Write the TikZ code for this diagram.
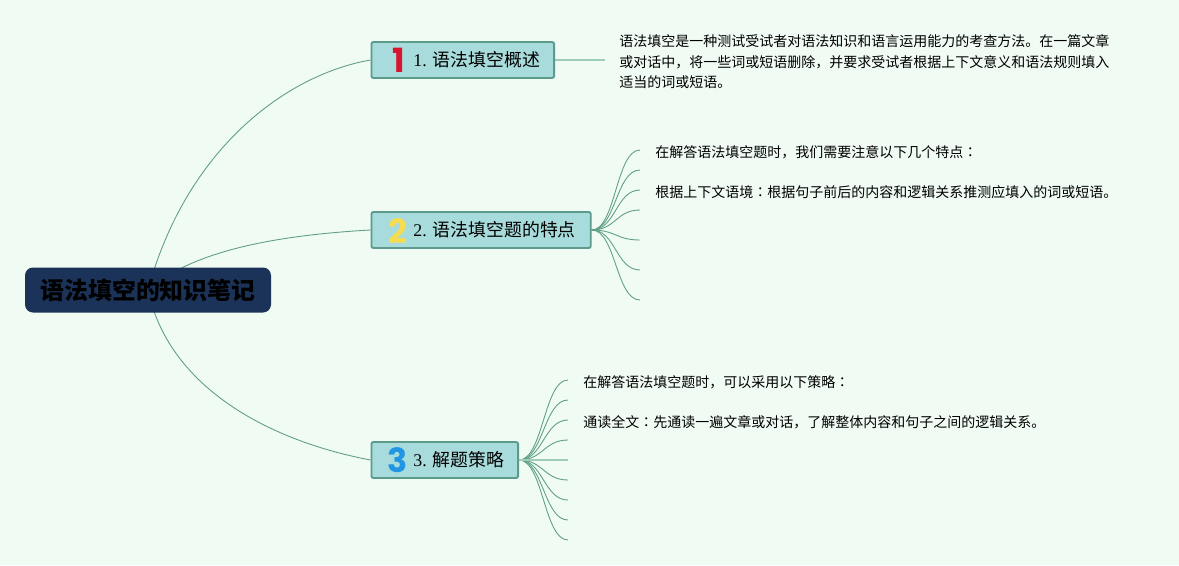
\documentclass[tikz,border=0pt]{standalone}
\usepackage{fontspec}
\setmainfont{Liberation Serif}
\newfontfamily\cjk{Noto Sans CJK SC}
\newfontfamily\cjktc{Noto Sans CJK TC}
\newfontfamily\numfont{Poppins}
\newcommand{\cc}{{\cjktc ：}}
\newcommand{\tlabel}[2]{\hspace*{31.5pt}\raisebox{-1.5pt}{#1\hspace{4.5pt}{\cjk #2}}}
\usetikzlibrary{backgrounds}
\definecolor{bgc}{HTML}{EFFBF3}
\definecolor{boxfill}{HTML}{A8DCDC}
\definecolor{boxline}{HTML}{5C9A8C}
\definecolor{rootfill}{HTML}{1B3358}
\definecolor{linec}{HTML}{5F9E85}
\definecolor{linelight}{HTML}{A0CDB6}
\definecolor{numred}{HTML}{D9142F}
\definecolor{numyellow}{HTML}{F5DC50}
\definecolor{numblue}{HTML}{2196E3}
\tikzset{
  rootbox/.style={draw=none,fill=rootfill,rounded corners=6pt,minimum width=184.5pt,minimum height=33.75pt,inner sep=0pt,font=\cjk\bfseries\fontsize{17.9}{22}\selectfont,text=black},
  topic/.style={draw=boxline,line width=1.4pt,fill=boxfill,rounded corners=1.5pt,minimum height=27pt,inner xsep=0pt,inner ysep=0pt,align=left,anchor=west,font=\fontsize{13.4}{16}\selectfont},
  numeral/.style={inner sep=0pt,font=\numfont\bfseries\fontsize{25}{25}\selectfont},
  leaf/.style={inner sep=0pt,anchor=west,align=left,font=\cjk\fontsize{10.5}{15.4}\selectfont,text=black},
  conn/.style={draw=linec,line width=.65pt},
  connlight/.style={draw=linelight,line width=1pt}
}
\begin{document}
\begin{tikzpicture}[x=.75pt,y=-.75pt]
\useasboundingbox (0,0) rectangle (1179,565);
\node[rootbox] (root) at (148,290) {\raisebox{-2.25pt}{语法填空的知识笔记}};
\node[topic,text width=137pt] (b1) at (370.5,60) {\tlabel{1.}{语法填空概述}};
\node[topic,text width=164.5pt] (b2) at (370.5,230) {\tlabel{2.}{语法填空题的特点}};
\node[topic,text width=110pt] (b3) at (370.5,460) {\tlabel{3.}{解题策略}};
\node[numeral,text=numred] (n1) at (399,60) {1};
\node[numeral,text=numyellow] (n2) at (398,231) {2};
\node[numeral,text=numblue] (n3) at (398,460) {3};
\node[leaf] (t1) at (619,62) {语法填空是一种测试受试者对语法知识和语言运用能力的考查方法。在一篇文章\\或对话中，将一些词或短语删除，并要求受试者根据上下文意义和语法规则填入\\适当的词或短语。};
\node[leaf] (t2a) at (655,152) {在解答语法填空题时，我们需要注意以下几个特点\cc};
\node[leaf] (t2b) at (655,192) {根据上下文语境\cc 根据句子前后的内容和逻辑关系推测应填入的词或短语。};
\node[leaf] (t3a) at (583,382) {在解答语法填空题时，可以采用以下策略\cc};
\node[leaf] (t3b) at (583,422) {通读全文\cc 先通读一遍文章或对话，了解整体内容和句子之间的逻辑关系。};
\coordinate (e1) at (605,60);
\coordinate (a1) at (640,150);
\coordinate (a2) at (640,170);
\coordinate (a3) at (640,190);
\coordinate (a4) at (640,210);
\coordinate (a5) at (640,240);
\coordinate (a6) at (640,270);
\coordinate (a7) at (640,300);
\coordinate (c1) at (568,380);
\coordinate (c2) at (568,400);
\coordinate (c3) at (568,420);
\coordinate (c4) at (568,440);
\coordinate (c5) at (568,460);
\coordinate (c6) at (568,480);
\coordinate (c7) at (568,500);
\coordinate (c8) at (568,520);
\coordinate (c9) at (568,540);
\begin{pgfonlayer}{background}
\fill[bgc] (0,0) rectangle (1179,565);
\draw[conn] (root.center) .. controls +(38,-140) and (285,75) .. (b1.west);
\draw[conn] (root.center) .. controls +(45,-40) and (280,235) .. (b2.west);
\draw[conn] (root.center) .. controls +(20,95) and (265,440) .. (b3.west);
\draw[connlight] (b1.east) -- (e1);
\foreach \e in {a1,a2,a3,a4,a5,a6,a7}
  \draw[conn] (b2.east) .. controls +(24,0) and +(-24,0) .. (\e);
\foreach \e in {c1,c2,c3,c4,c6,c7,c8,c9}
  \draw[conn] (b3.east) .. controls +(24,0) and +(-24,0) .. (\e);
\draw[connlight] (b3.east) -- (c5);
\end{pgfonlayer}
\end{tikzpicture}
\end{document}
